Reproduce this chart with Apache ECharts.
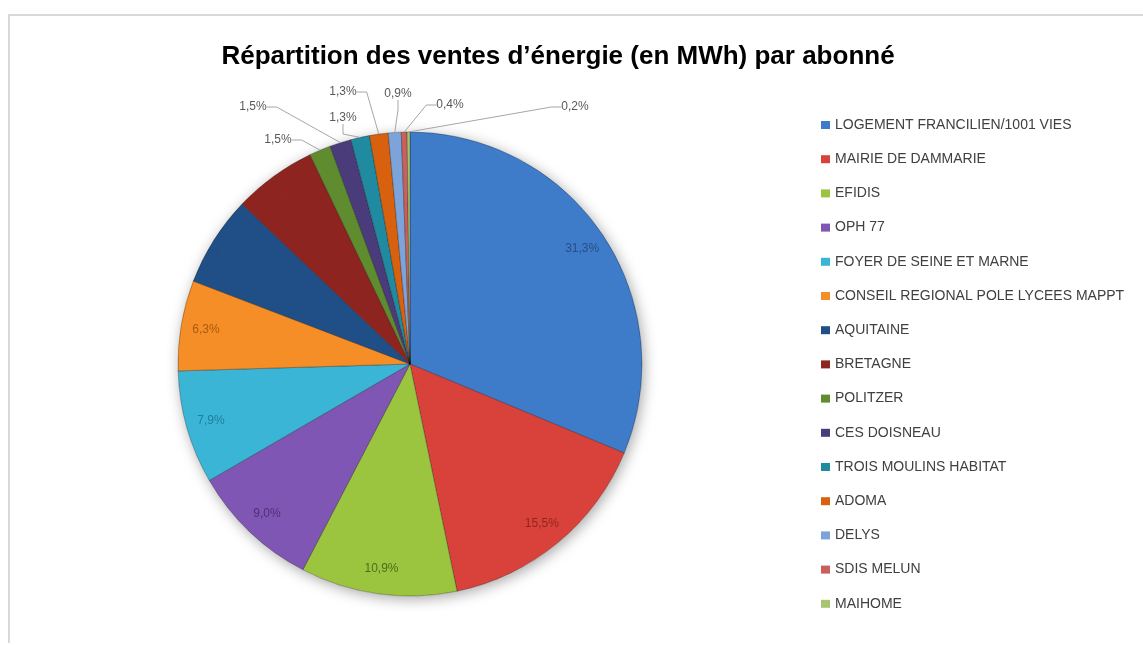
<!DOCTYPE html>
<html lang="fr">
  <head>
    <meta charset="UTF-8" />
    <title>Répartition des ventes d'énergie</title>
    <style>
      html,
      body {
        margin: 0;
        padding: 0;
        background: #fff;
      }

      #main {
        width: 1143px;
        height: 645px;
      }

      #frame {
        position: absolute;
        left: 8px;
        top: 14px;
        right: 0;
        bottom: 2px;
        border-left: 2px solid #d9d9d9;
        border-top: 2px solid #d9d9d9;
        pointer-events: none;
      }
    </style>
  </head>

  <body>
    <div id="main"></div>
    <div id="frame"></div>

    <script src="https://cdn.jsdelivr.net/npm/echarts@6/dist/echarts.min.js"></script>
    <script>
      var names = [
        "LOGEMENT FRANCILIEN/1001 VIES",
        "MAIRIE DE DAMMARIE",
        "EFIDIS",
        "OPH 77",
        "FOYER DE SEINE ET MARNE",
        "CONSEIL REGIONAL POLE LYCEES MAPPT",
        "AQUITAINE",
        "BRETAGNE",
        "POLITZER",
        "CES DOISNEAU",
        "TROIS MOULINS HABITAT",
        "ADOMA",
        "DELYS",
        "SDIS MELUN",
        "MAIHOME"
      ];
      // share in % of MWh sold
      var shares = [31.3, 15.5, 10.9, 9.0, 7.9, 6.3, 6.3, 5.8, 1.5, 1.5, 1.3, 1.3, 0.9, 0.4, 0.2];

      var colors = [
        "#3e7bc8", "#d9413b", "#9cc53f", "#7f56b3", "#3bb5d6",
        "#f58e26", "#1f4f86", "#8e2420", "#5e8c2e", "#4a3c7a",
        "#1f8aa0", "#d7610f", "#7da3db", "#c9605c", "#a9c46e"
      ];
      // label colours for the labels drawn on the slices
      var insideLabelColors = [
        "#274f85", "#93241f", "#4f6b1c", "#4e2f7c", "#1f7f99",
        "#a85a10", "#24518a", "#8f2622"
      ];
      // where Excel put the small outside labels
      var outsideSpots = {
        8: [278, 140],
        9: [253, 107],
        10: [343, 118],
        11: [343, 92],
        12: [398, 94],
        13: [450, 105],
        14: [575, 107]
      };

      var chart = echarts.init(document.getElementById("main"));

      function fmt(v) {
        return v.toFixed(1).replace(".", ",") + "%";
      }

      var sliceData = names.map(function(n, i) {
        return { name: n, value: shares[i], itemStyle: { color: colors[i] } };
      });

      var labelData = names.map(function(n, i) {
        var d = { name: n, value: shares[i] };
        if (i < insideLabelColors.length) {
          d.label = { position: "inside", color: insideLabelColors[i] };
        } else {
          d.label = { position: "outside", color: "#595959" };
          d.labelLine = { show: true };
        }
        return d;
      });

      chart.setOption({
        animation: false,
        title: {
          text: "Répartition des ventes d’énergie (en MWh) par abonné",
          left: 553,
          textAlign: "center",
          top: 39,
          textStyle: {
            fontFamily: "Liberation Sans",
            fontSize: 26,
            fontWeight: "bold",
            color: "#000"
          }
        },
        legend: {
          data: names,
          orient: "vertical",
          left: 816,
          top: 113,
          itemWidth: 9,
          itemHeight: 8,
          itemGap: 20.2,
          itemStyle: { borderWidth: 0 },
          icon: "rect",
          textStyle: {
            fontFamily: "Liberation Sans",
            fontSize: 14,
            color: "#404040"
          }
        },
        series: [
          {
            // soft shadow under the pie
            type: "pie",
            center: [410, 364],
            radius: 232,
            silent: true,
            z: 1,
            label: { show: false },
            labelLine: { show: false },
            itemStyle: {
              color: "#fff",
              shadowBlur: 14,
              shadowColor: "rgba(0,0,0,0.35)",
              shadowOffsetX: 2,
              shadowOffsetY: 3
            },
            data: [{ name: "", value: 1 }]
          },
          {
            type: "pie",
            center: [410, 364],
            radius: 232,
            startAngle: 90,
            clockwise: true,
            silent: true,
            z: 2,
            label: { show: false },
            labelLine: { show: false },
            itemStyle: {
              borderColor: "rgba(0,0,0,0.28)",
              borderWidth: 1
            },
            data: sliceData
          },
          {
            type: "pie",
            center: [410, 364],
            radius: [176, 232],
            startAngle: 90,
            clockwise: true,
            silent: true,
            z: 3,
            itemStyle: { color: "rgba(0,0,0,0)", borderWidth: 0 },
            label: {
              show: true,
              fontFamily: "Liberation Sans",
              fontSize: 12,
              formatter: function(p) {
                return fmt(p.value);
              }
            },
            labelLine: {
              show: false,
              length: 10,
              length2: 10,
              lineStyle: { color: "#a6a6a6", width: 1 }
            },
            labelLayout: function(params) {
              var spot = outsideSpots[params.dataIndex];
              if (!spot) return {};
              return {
                x: spot[0],
                y: spot[1],
                align: "center",
                verticalAlign: "middle",
                hideOverlap: false,
                moveOverlap: false
              };
            },
            data: labelData
          }
        ]
      });
    </script>
  </body>
</html>
